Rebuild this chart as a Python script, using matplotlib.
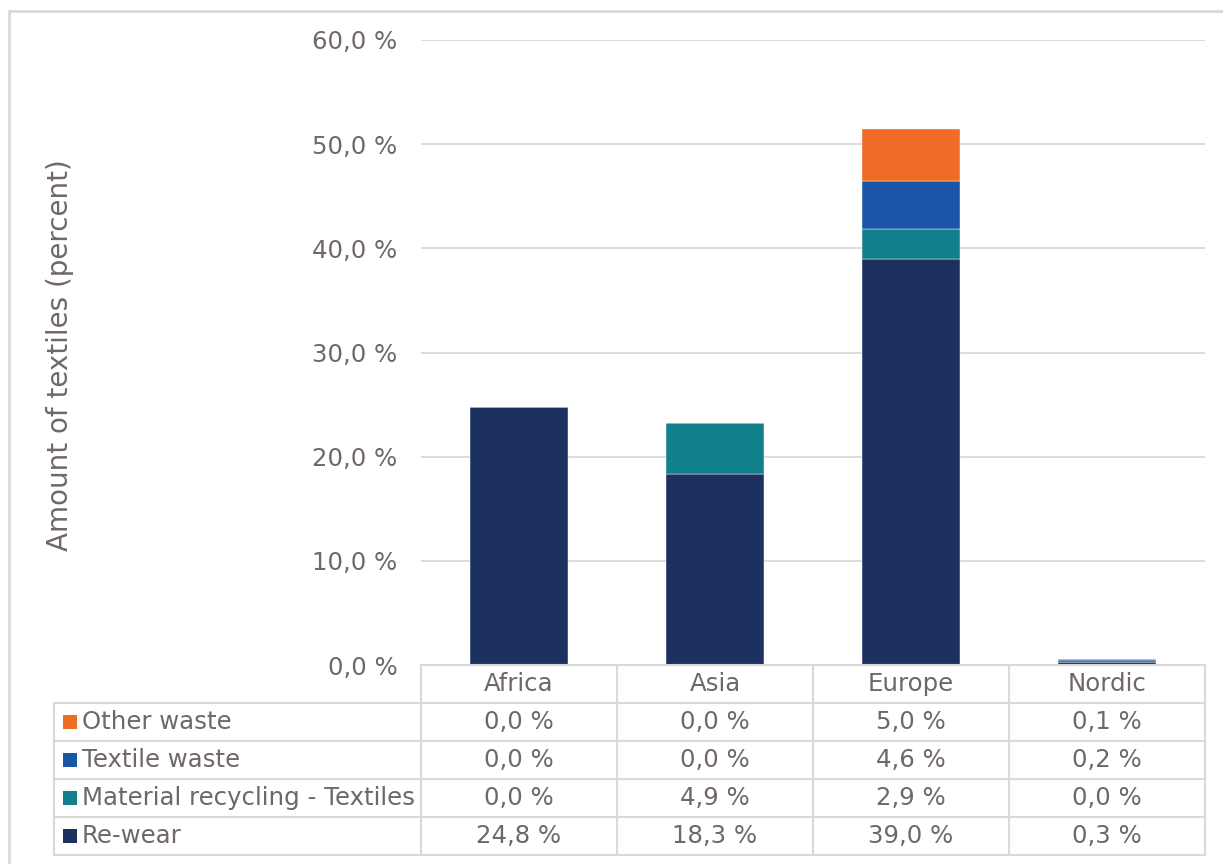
import matplotlib
matplotlib.use("Agg")
import matplotlib.pyplot as plt
from matplotlib.lines import Line2D
from matplotlib.patches import Rectangle
import numpy as np

categories = ["Africa", "Asia", "Europe", "Nordic"]
series_names = ["Re-wear", "Material recycling - Textiles", "Textile waste", "Other waste"]
rewear = [24.8, 18.3, 39.0, 0.3]
material_recycling = [0.0, 4.9, 2.9, 0.0]
textile_waste = [0.0, 0.0, 4.6, 0.2]
other_waste = [0.0, 0.0, 5.0, 0.1]
series_values = [rewear, material_recycling, textile_waste, other_waste]
colors = ["#1c3160", "#12808a", "#1a56a8", "#ee6c25"]
yticks = [0, 10, 20, 30, 40, 50, 60]

W, H = 1223, 864
TXT = "#6f6768"
GRID = "#d9d9d9"
FS = 17.6

fig = plt.figure(figsize=(W / 100, H / 100), dpi=100)
fig.patch.set_facecolor("white")

def fx(x):
    return x / W

def fy(y):
    return (H - y) / H

ax_l, ax_r, ax_t, ax_b = 421, 1205, 40, 665
ax = fig.add_axes([fx(ax_l), fy(ax_b), fx(ax_r - ax_l), (ax_b - ax_t) / H])

n = len(categories)
x = np.arange(n)
bottom = np.zeros(n)
for vals, col, name in zip(series_values, colors, series_names):
    ax.bar(x, vals, width=0.505, bottom=bottom, color=col, edgecolor="white",
           linewidth=0.3, label=name, zorder=3)
    bottom += np.array(vals)

ax.set_xlim(-0.5, n - 0.5)
ax.set_ylim(0, 60)
ax.set_yticks(yticks)
ax.set_yticklabels([f"{v:.1f} %".replace(".", ",") for v in yticks],
                   fontsize=FS, color=TXT)
ax.tick_params(axis="y", length=0, pad=17)
ax.set_xticks([])
for s in ax.spines.values():
    s.set_visible(False)
ax.yaxis.grid(True, color=GRID, linewidth=1.3, zorder=0)
ax.set_axisbelow(True)
ax.set_ylabel("Amount of textiles (percent)", fontsize=20, color=TXT)
ax.yaxis.set_label_coords((74 - ax_l) / (ax_r - ax_l), 0.496)

# figure border
fig.add_artist(Rectangle((fx(9), fy(1000)), fx(1400), (1000 - 11) / H,
                         transform=fig.transFigure, fill=False,
                         edgecolor=GRID, linewidth=2, clip_on=False))

# data table
col_w = (ax_r - ax_l) / n
row_h = 38.0
header_top = ax_b
rows_top = header_top + row_h
table_bottom = rows_top + row_h * len(series_names)
leg_left = 54

def hline(x0, x1, y):
    fig.add_artist(Line2D([fx(x0), fx(x1)], [fy(y), fy(y)], color=GRID,
                          linewidth=1.5, transform=fig.transFigure))

def vline(xp, y0, y1):
    fig.add_artist(Line2D([fx(xp), fx(xp)], [fy(y0), fy(y1)], color=GRID,
                          linewidth=1.5, transform=fig.transFigure))

hline(ax_l, ax_r, header_top)
for k in range(len(series_names) + 1):
    hline(leg_left, ax_r, rows_top + k * row_h)
for i in range(n + 1):
    vline(ax_l + i * col_w, header_top, table_bottom)
vline(leg_left, rows_top, table_bottom)

for i, c in enumerate(categories):
    fig.text(fx(ax_l + (i + 0.5) * col_w), fy(header_top + row_h / 2), c,
             ha="center", va="center", fontsize=FS, color=TXT)

rows = list(zip(series_names, series_values, colors))[::-1]
for r, (name, vals, col) in enumerate(rows):
    yc = rows_top + (r + 0.5) * row_h
    fig.add_artist(Rectangle((fx(63), fy(yc + 7)), fx(14), 14 / H,
                             transform=fig.transFigure, facecolor=col,
                             edgecolor="none"))
    fig.text(fx(82), fy(yc), name, ha="left", va="center", fontsize=FS, color=TXT)
    for i, v in enumerate(vals):
        fig.text(fx(ax_l + (i + 0.5) * col_w), fy(yc),
                 f"{v:.1f} %".replace(".", ","), ha="center", va="center",
                 fontsize=FS, color=TXT)

fig.savefig("out.png", dpi=100, facecolor="white")
